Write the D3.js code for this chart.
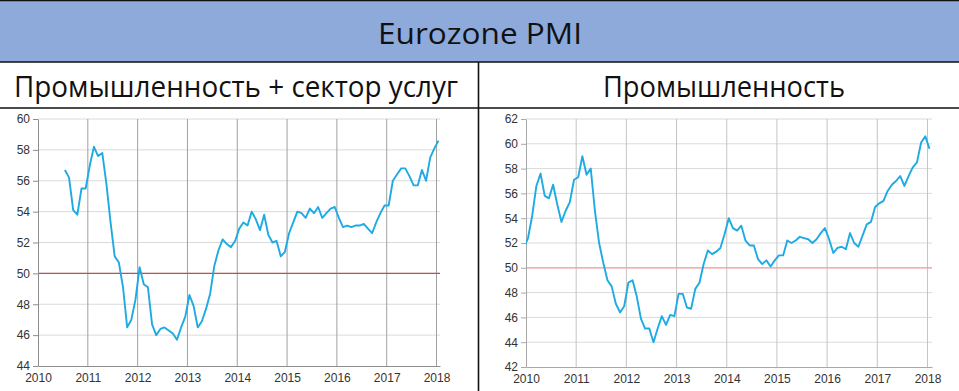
<!DOCTYPE html>
<html>
<head>
<meta charset="utf-8">
<script src="https://cdn.jsdelivr.net/npm/d3@7"></script>
<style>
  html, body { margin: 0; padding: 0; background: #fff; }
  svg { display: block; }
</style>
</head>
<body>
<div id="chart"></div>
<script>
// Eurozone PMI: composite (left) and manufacturing (right), monthly.

const titleText = "Eurozone PMI";
const panelTitles = ["Промышленность + сектор услуг", "Промышленность"];

const yearTicks = [2010, 2011, 2012, 2013, 2014, 2015, 2016, 2017, 2018];
const compositeYTicks = [44, 46, 48, 50, 52, 54, 56, 58, 60];
const manufacturingYTicks = [42, 44, 46, 48, 50, 52, 54, 56, 58, 60, 62];
const refLevel = 50;

// first month of each series: [year, month index 0-11]
const compositeStart = [2010, 6];       // Jul 2010
const manufacturingStart = [2009, 11];  // Dec 2009

const compositeValues = [
  56.7, 56.2, 54.1, 53.8, 55.5, 55.5,
  57.0, 58.2, 57.6, 57.8, 55.8, 53.3, 51.1, 50.7, 49.1, 46.5, 47.0, 48.3,
  50.4, 49.3, 49.1, 46.7, 46.0, 46.4, 46.5, 46.3, 46.1, 45.7, 46.5, 47.2,
  48.6, 47.9, 46.5, 46.9, 47.7, 48.7, 50.5, 51.5, 52.2, 51.9, 51.7, 52.1,
  52.9, 53.3, 53.1, 54.0, 53.5, 52.8, 53.8, 52.5, 52.0, 52.1, 51.1, 51.4,
  52.6, 53.3, 54.0, 53.9, 53.6, 54.2, 53.9, 54.3, 53.6, 53.9, 54.2, 54.3,
  53.6, 53.0, 53.1, 53.0, 53.1, 53.1, 53.2, 52.9, 52.6, 53.3, 53.9, 54.4,
  54.4, 56.0, 56.4, 56.8, 56.8, 56.3, 55.7, 55.7, 56.7, 56.0, 57.5, 58.1,
  58.6
];

const manufacturingValues = [
  51.6,
  52.4, 54.2, 56.6, 57.6, 55.8, 55.6, 56.7, 55.1, 53.7, 54.6, 55.3, 57.1,
  57.3, 59.0, 57.5, 58.0, 54.6, 52.0, 50.4, 49.0, 48.5, 47.1, 46.4, 46.9,
  48.8, 49.0, 47.7, 45.9, 45.1, 45.1, 44.0, 45.1, 46.1, 45.4, 46.2, 46.1,
  47.9, 47.9, 46.8, 46.7, 48.3, 48.8, 50.3, 51.4, 51.1, 51.3, 51.6, 52.7,
  54.0, 53.2, 53.0, 53.4, 52.2, 51.8, 51.8, 50.7, 50.3, 50.6, 50.1, 50.6,
  51.0, 51.0, 52.2, 52.0, 52.2, 52.5, 52.4, 52.3, 52.0, 52.3, 52.8, 53.2,
  52.3, 51.2, 51.6, 51.7, 51.5, 52.8, 52.0, 51.7, 52.6, 53.5, 53.7, 54.9,
  55.2, 55.4, 56.2, 56.7, 57.0, 57.4, 56.6, 57.4, 58.1, 58.5, 60.1, 60.6,
  59.6
];

const W = 959;
const H = 391;

const svg = d3.select("#chart").append("svg")
  .attr("width", W)
  .attr("height", H);

// ---- table-like header ----
svg.append("rect")
  .attr("x", 0).attr("y", 0)
  .attr("width", W).attr("height", 62)
  .attr("fill", "#8eaadb");

const border = "#111";
[[0, 0.5, W, 0.5], [0, 62, W, 62], [0, 108, W, 108], [478.5, 62, 478.5, H]]
  .forEach(([x1, y1, x2, y2]) => {
    svg.append("line")
      .attr("x1", x1).attr("y1", y1).attr("x2", x2).attr("y2", y2)
      .attr("stroke", border)
      .attr("stroke-width", 1.6);
  });

const headFont = "'Open Sans', 'Noto Sans', sans-serif";

// header texts: squeezed a bit to mimic the narrow office font
function headText(x, y, size, width, str) {
  svg.append("text")
    .attr("x", x).attr("y", y)
    .attr("text-anchor", "middle")
    .attr("font-family", headFont)
    .attr("font-size", size)
    .attr("fill", "#111")
    .attr("textLength", width)
    .attr("lengthAdjust", "spacingAndGlyphs")
    .text(str);
}

headText(480, 44, 29, 204, titleText);
headText(236, 97, 30, 444, panelTitles[0]);
headText(724, 97, 30, 242, panelTitles[1]);

// ---- panels ----
function monthSeries(start, values) {
  return values.map((v, i) => {
    const m = start[1] + i;
    return { t: start[0] + m / 12 + 0.04, v: v };
  });
}

function drawPanel(opt) {
  const x = d3.scaleLinear().domain(opt.xDomain).range([opt.left, opt.right]);
  const y = d3.scaleLinear().domain(opt.yDomain).range([opt.bottom, opt.top]);
  const g = svg.append("g");

  // horizontal grid
  g.selectAll("line.hgrid")
    .data(opt.yTicks.filter(d => d !== opt.yDomain[0]))
    .join("line")
    .attr("class", "hgrid")
    .attr("x1", opt.left).attr("x2", opt.right)
    .attr("y1", d => y(d)).attr("y2", d => y(d))
    .attr("stroke", "#dadada")
    .attr("stroke-width", 1);

  // vertical year grid
  g.selectAll("line.vgrid")
    .data(yearTicks.filter(d => d !== opt.xDomain[0]))
    .join("line")
    .attr("class", "vgrid")
    .attr("x1", d => x(d)).attr("x2", d => x(d))
    .attr("y1", opt.top).attr("y2", opt.bottom)
    .attr("stroke", opt.vgridColor)
    .attr("stroke-width", 1);

  // 50 reference line
  g.append("line")
    .attr("x1", opt.left).attr("x2", opt.right)
    .attr("y1", y(refLevel)).attr("y2", y(refLevel))
    .attr("stroke", opt.refColor)
    .attr("stroke-width", 1.2);

  // axes
  const yAxis = g.append("g")
    .attr("transform", `translate(${opt.left},0)`)
    .call(d3.axisLeft(y).tickValues(opt.yTicks).tickSize(5).tickSizeOuter(0).tickPadding(3));
  const xAxis = g.append("g")
    .attr("transform", `translate(0,${opt.bottom})`)
    .call(d3.axisBottom(x).tickValues(yearTicks).tickFormat(d3.format("d"))
      .tickSize(0).tickSizeOuter(0).tickPadding(7));

  [yAxis, xAxis].forEach(a => {
    a.select(".domain").attr("stroke", opt.axisColor);
    a.selectAll(".tick line").attr("stroke", opt.axisColor);
    a.selectAll("text")
      .attr("font-family", "'Liberation Sans', Arial, sans-serif")
      .attr("font-size", 12)
      .attr("fill", "#333");
  });

  // clipped data line
  const clipId = "clip-" + opt.id;
  svg.append("clipPath").attr("id", clipId)
    .append("rect")
    .attr("x", opt.left).attr("y", opt.top - 5)
    .attr("width", opt.right - opt.left)
    .attr("height", opt.bottom - opt.top + 5);

  const line = d3.line()
    .x(d => x(d.t))
    .y(d => y(d.v));

  g.append("path")
    .datum(opt.data)
    .attr("clip-path", `url(#${clipId})`)
    .attr("fill", "none")
    .attr("stroke", "#1eaae2")
    .attr("stroke-width", 1.9)
    .attr("stroke-linejoin", "round")
    .attr("d", line);
}

drawPanel({
  id: "composite",
  data: monthSeries(compositeStart, compositeValues),
  xDomain: [2010, 2018.07],
  yDomain: [44, 60],
  yTicks: compositeYTicks,
  left: 38, right: 440, top: 119, bottom: 366,
  vgridColor: "#a0a0a0",
  axisColor: "#8c8c8c",
  refColor: "#c0504d"
});

drawPanel({
  id: "manufacturing",
  data: monthSeries(manufacturingStart, manufacturingValues),
  xDomain: [2010, 2018.09],
  yDomain: [42, 62],
  yTicks: manufacturingYTicks,
  left: 526, right: 932, top: 119, bottom: 367,
  vgridColor: "#c4c4c4",
  axisColor: "#a8a8a8",
  refColor: "#f2a0a0"
});
</script>
</body>
</html>
